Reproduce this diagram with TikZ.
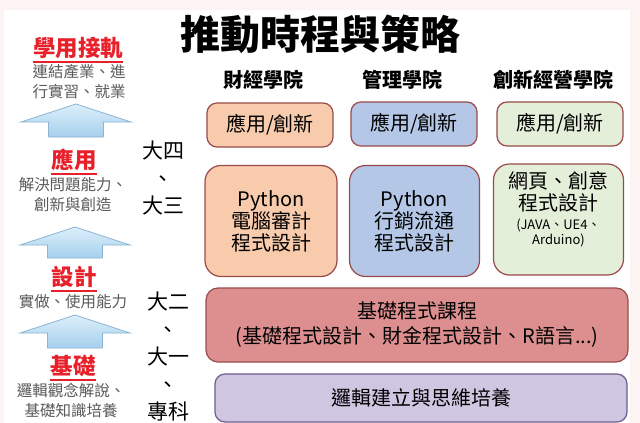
\documentclass[tikz,border=0pt]{standalone}
\usepackage{fontspec}
\setmainfont{Noto Sans CJK TC}
\usepackage{xcolor}

\definecolor{pagepink}{HTML}{FCF4F2}
\definecolor{boxedge}{HTML}{9A4A4A}
\definecolor{peach}{HTML}{F8CBAD}
\definecolor{skyblue}{HTML}{B4C7E7}
\definecolor{palegreen}{HTML}{E3EFD9}
\definecolor{rosered}{HTML}{DD8F8F}
\definecolor{lavender}{HTML}{CFC6E2}
\definecolor{lavedge}{HTML}{6E5E8C}
\definecolor{arrowtop}{HTML}{DCEFFA}
\definecolor{arrowbot}{HTML}{A6D0EE}
\definecolor{arrowedge}{HTML}{8DB4D4}
\definecolor{stepred}{HTML}{E8202A}
\definecolor{notegray}{HTML}{5A5A5A}

\begin{document}
\begin{tikzpicture}[x=1pt, y=-1pt,
  box/.style={draw=boxedge, line width=1.2pt, rounded corners=10pt,
    align=center, inner sep=0pt, font=\fontsize{20}{22}\selectfont},
  topbox/.style={box, minimum width=126pt, minimum height=44pt},
  midbox/.style={box, rounded corners=16pt, minimum width=132pt, minimum height=111pt},
  head/.style={font=\fontsize{20}{22}\selectfont\bfseries},
  yearlbl/.style={align=center, font=\fontsize{21}{27.5}\selectfont},
  steplbl/.style={inner sep=0pt, text=stepred, font=\fontsize{22.5}{24}\selectfont\bfseries},
  note/.style={align=center, text=notegray, font=\fontsize{15.5}{20}\selectfont},
  arrowbody/.style={draw=arrowedge, line width=0.8pt, top color=arrowtop, bottom color=arrowbot},
  liftarrow/.pic={
    \path[arrowbody] (0,0) -- (55,18) -- (27.5,18) -- (27.5,#1) -- (-27.5,#1)
      -- (-27.5,18) -- (-55,18) -- cycle;
  },
  uline/.style={draw=stepred, line width=1.6pt}
]
\useasboundingbox (0,0) rectangle (640,423);
\fill[pagepink] (0,0) rectangle (640,423);
\fill[white] (4,10) rectangle (630,423);

% title
\node[font=\fontsize{40}{42}\selectfont\bfseries] (title) at (320,34) {推動時程與策略};

% college headers
\node[head] (hfin) at (263,80) {財經學院};
\node[head] (hmgt) at (402,80) {管理學院};
\node[head] (hinn) at (553,80) {創新經營學院};

% top row
\node[topbox, fill=peach] (a1) at (270,125) {應用/創新};
\node[topbox, fill=skyblue] (a2) at (414,124) {應用/創新};
\node[topbox, fill=palegreen] (a3) at (560,124) {應用/創新};

% middle row
\node[midbox, fill=peach] (b1) at (271,221) {Python\\電腦審計\\程式設計};
\node[midbox, fill=skyblue, minimum width=130pt] (b2) at (414.5,221) {Python\\行銷流通\\程式設計};
\node[midbox, fill=palegreen, minimum width=130pt] (b3) at (558.5,219.5)
  {網頁、創意\\程式設計\\[-3pt]{\fontsize{13}{15}\selectfont (JAVA、UE4、}\\[-7pt]{\fontsize{13}{15}\selectfont Arduino)}\\[1pt]\mbox{}};

% lower rows
\node[box, fill=rosered, rounded corners=12pt, minimum width=422pt, minimum height=74pt,
  font=\fontsize{20}{25}\selectfont] (c1) at (417,325)
  {基礎程式課程\\(基礎程式設計、財金程式設計、R語言...)};
\node[box, draw=lavedge, fill=lavender, minimum width=412pt, minimum height=48pt] (d1) at (421,398)
  {邏輯建立與思維培養};

% year labels
\node[yearlbl] (y34) at (163,178.5) {大四\\、\\大三};
\node[yearlbl] (y12) at (168,357) {大二\\、\\大一\\、\\專科};

% left column: steps
\node[steplbl] (s4) at (78,48) {學用接軌};
\draw[uline] ([yshift=-3pt]s4.south west) -- ([yshift=-3pt]s4.south east);
\node[note] (n4) at (79,82) {連結產業、進\\行實習、就業};
\pic at (76,104) {liftarrow=33};

\node[steplbl] (s3) at (74,160) {應用};
\draw[uline] ([yshift=-3pt]s3.south west) -- ([yshift=-3pt]s3.south east);
\node[note] (n3) at (73,195) {解決問題能力、\\創新與創造};
\pic at (75,227) {liftarrow=31};

\node[steplbl] (s2) at (74,277) {設計};
\draw[uline] ([yshift=-3pt]s2.south west) -- ([yshift=-3pt]s2.south east);
\node[note] (n2) at (73,302) {實做、使用能力};
\pic at (75,315) {liftarrow=33};

\node[steplbl] (s1) at (73,366) {基礎};
\draw[uline] ([yshift=-3pt]s1.south west) -- ([yshift=-3pt]s1.south east);
\node[note] (n1) at (71,401) {邏輯觀念解說、\\基礎知識培養};

\end{tikzpicture}
\end{document}
